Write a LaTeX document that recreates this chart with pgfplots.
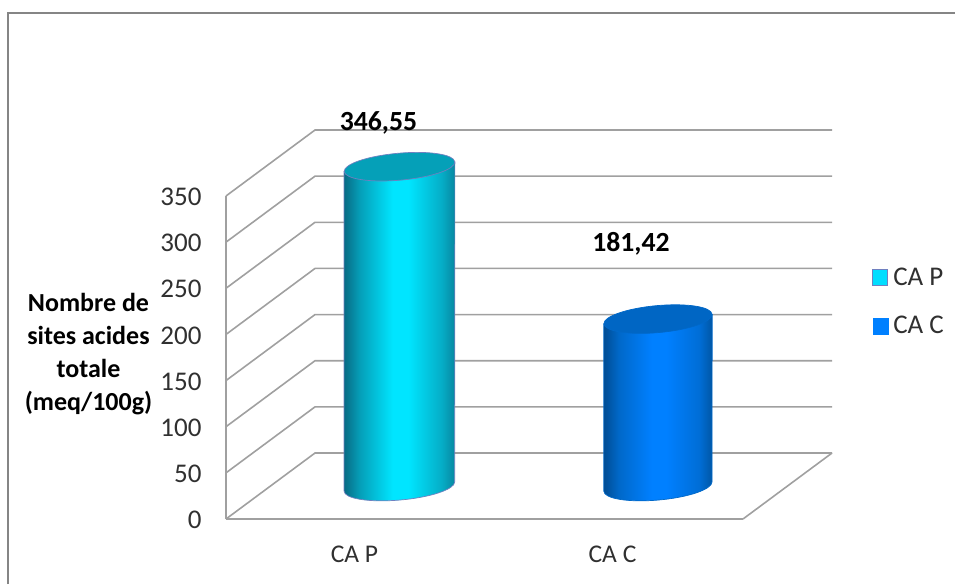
\documentclass[border=0pt]{standalone}
\usepackage{pgfplots}
\pgfplotsset{compat=1.18}
\usepackage{fontspec}
\setmainfont{Carlito}
\definecolor{gridc}{HTML}{A0A0A0}
\definecolor{framec}{HTML}{858585}
\definecolor{txt}{HTML}{303030}
\definecolor{topP}{HTML}{05A0B8}
\definecolor{topC}{HTML}{0066C4}
\definecolor{lineP}{HTML}{7080C0}
\definecolor{lineC}{HTML}{0068C8}
\definecolor{legP}{HTML}{00DDFF}
\definecolor{legC}{HTML}{0080FF}
\pgfdeclarehorizontalshading{cylP}{100bp}{rgb(0bp)=(0.03,0.42,0.52);rgb(25bp)=(0.03,0.42,0.52);rgb(32bp)=(0.02,0.62,0.72);rgb(47bp)=(0,0.90,1);rgb(54bp)=(0,0.90,1);rgb(69bp)=(0.02,0.68,0.78);rgb(75bp)=(0.03,0.53,0.63);rgb(100bp)=(0.03,0.53,0.63)}
\pgfdeclarehorizontalshading{cylC}{100bp}{rgb(0bp)=(0,0.30,0.58);rgb(25bp)=(0,0.30,0.58);rgb(32bp)=(0,0.41,0.79);rgb(47bp)=(0,0.50,1);rgb(54bp)=(0,0.50,1);rgb(69bp)=(0,0.43,0.84);rgb(75bp)=(0,0.34,0.65);rgb(100bp)=(0,0.34,0.65)}
\newcommand\defcyl[5]{%
\pgfdeclareplotmark{#1}{%
\pgfmathsetmacro\h{\rawy*0.9229}%
\begin{pgfscope}%
\pgfsetlinewidth{0.7pt}\pgfsetstrokecolor{#4}\pgfsetfillcolor{#3}%
\pgfpathmoveto{\pgfpoint{#5pt}{37.1pt}}%
\pgfpathlineto{\pgfpoint{-#5pt}{27.9pt}}%
\pgfpathlineto{\pgfpoint{-#5pt}{27.9pt-\h pt}}%
\pgfpatharcaxes{178.8}{358.8}{\pgfpoint{#5pt-0.11pt}{4.855pt}}{\pgfpoint{-1.177pt}{13.45pt}}%
\pgfpathclose
\pgfshadepath{#2}{0}%
\pgfusepath{stroke}%
\pgfpathellipse{\pgfpoint{0pt}{32.5pt}}{\pgfpoint{#5pt-0.11pt}{4.855pt}}{\pgfpoint{-1.177pt}{13.45pt}}%
\pgfusepath{fill,stroke}%
\end{pgfscope}}}
\defcyl{cylindreP}{cylP}{topP}{lineP}{55.4}
\defcyl{cylindreC}{cylC}{topC}{lineC}{54.2}
\begin{document}
\begin{tikzpicture}
\path[use as bounding box] (-226pt,-65pt) rectangle (729pt,519pt);
\begin{axis}[
  scale only axis, width=517pt, height=323pt,
  xmin=226, xmax=743, ymin=0, ymax=350,
  clip=false,
  axis x line*=bottom, axis y line*=left,
  axis line style={-,draw=gridc,line width=1.7pt},
  tick style={draw=none},
  xtick={355,613}, xticklabels={CA P,CA C},
  ytick={0,50,100,150,200,250,300,350},
  /pgf/number format/assume math mode=true,
  yticklabel style={font=\fontsize{27}{30}\selectfont,text=txt,xshift=-21pt,yshift=-1pt},
  xticklabel style={font=\fontsize{25.5}{30}\selectfont,text=txt,yshift=-23pt,xshift=-0.5pt},
  ylabel={Nombre de\\sites acides\\totale\\(meq/100g)},
  ylabel style={rotate=-90,at={(axis cs:88.5,179)},anchor=center,align=center,font=\bfseries\fontsize{26}{33}\selectfont},
  point meta min=0, point meta max=400,
  legend style={at={(axis cs:872,274)},anchor=north west,draw=none,fill=none,font=\fontsize{27}{30}\selectfont,text=txt,row sep=25pt,inner sep=0pt,legend cell align=left},
  legend image code/.code={\draw[#1] (0pt,-8pt) rectangle (15pt,8pt); \path (18pt,0pt);},
]
\addlegendimage{fill=legP,draw=lineP,line width=1.1pt}
\addlegendimage{fill=legC,draw=legC}
% frame
\draw[framec,line width=2.2pt] (axis cs:8,-70.5) -- (axis cs:8,548) -- (axis cs:955,548);
% walls and floor
\addplot[gridc,line width=1.6pt,forget plot] coordinates {(226,0)(315,71.5)(832,71.5)};
\addplot[gridc,line width=1.6pt,forget plot] coordinates {(226,50)(315,121.5)(832,121.5)};
\addplot[gridc,line width=1.6pt,forget plot] coordinates {(226,100)(315,171.5)(832,171.5)};
\addplot[gridc,line width=1.6pt,forget plot] coordinates {(226,150)(315,221.5)(832,221.5)};
\addplot[gridc,line width=1.6pt,forget plot] coordinates {(226,200)(315,271.5)(832,271.5)};
\addplot[gridc,line width=1.6pt,forget plot] coordinates {(226,250)(315,321.5)(832,321.5)};
\addplot[gridc,line width=1.6pt,forget plot] coordinates {(226,300)(315,371.5)(832,371.5)};
\addplot[gridc,line width=1.6pt,forget plot] coordinates {(226,350)(315,421.5)(832,421.5)};
\addplot[gridc,line width=1.6pt,forget plot] coordinates {(743,0)(832,71.5)};
% cylinders
\addplot[scatter,only marks,mark=cylindreP,forget plot,
  visualization depends on={y \as \rawy},
  nodes near coords={346,55},
  every node near coord/.append style={anchor=center,xshift=-21pt,yshift=76pt,text=black,font=\bfseries\fontsize{27.7}{30}\selectfont}]
  coordinates {(399.5,346.55)};
\addplot[scatter,only marks,mark=cylindreC,forget plot,
  visualization depends on={y \as \rawy},
  nodes near coords={181,42},
  every node near coord/.append style={anchor=center,xshift=-27pt,yshift=108pt,text=black,font=\bfseries\fontsize{27.7}{30}\selectfont}]
  coordinates {(658,181.42)};
\legend{CA P,CA C}
\end{axis}
\end{tikzpicture}
\end{document}
